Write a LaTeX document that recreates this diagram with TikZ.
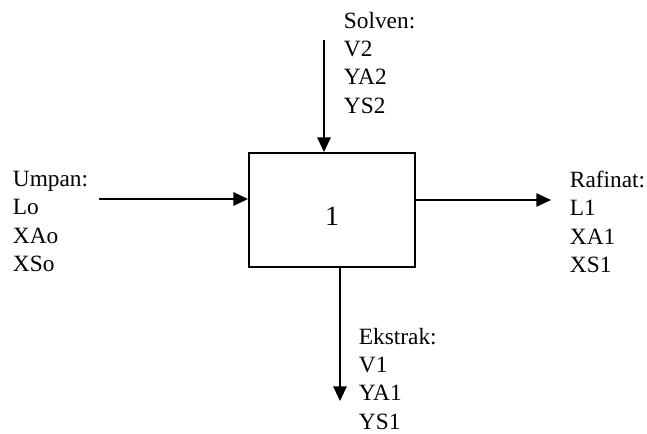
\documentclass[tikz,border=0pt]{standalone}
\usepackage{fontspec}
\setmainfont{Liberation Serif}
\usetikzlibrary{arrows.meta}

\tikzset{every picture/.style={line width=1.4pt}}
\tikzset{
  flow/.style={-{Triangle[length=11pt,width=10pt]}},
  streamtext/.style={anchor=north west, inner sep=0.75pt, align=left, font=\fontsize{17.5}{21.3}\selectfont}
}

\begin{document}
\begin{tikzpicture}[x=0.75pt,y=0.75pt,yscale=-1,xscale=1]
	\useasboundingbox (0,0) rectangle (647,434);

	% Stage box
	\node [draw, minimum width=124.5pt, minimum height=85.5pt, inner sep=0pt, text height=24pt, font=\fontsize{21}{25}\selectfont] (unit) at (332,210) {1};

	% Free ends of the streams
	\coordinate (feedin) at (99,199);
	\coordinate (solvin) at (324,40);
	\coordinate (rafout) at (551,200);
	\coordinate (ekout) at (340,401);

	% Streams
	\draw [flow] (feedin) -- (feedin -| unit.west);
	\draw [flow] (solvin) -- (solvin |- unit.north);
	\draw [flow] (unit.east |- rafout) -- (rafout);
	\draw [flow] (unit.south -| ekout) -- (ekout);

	% Text Node
	\node [streamtext] (feed) at (11,169) {Umpan:\\Lo\\XAo\\XSo};
	% Text Node
	\node [streamtext] (solvent) at (342,10) {Solven:\\V2\\YA2\\YS2};
	% Text Node
	\node [streamtext] (raffinate) at (568,169) {Rafinat:\\L1\\XA1\\XS1};
	% Text Node
	\node [streamtext] (extract) at (357,326) {Ekstrak:\\V1\\YA1\\YS1};

\end{tikzpicture}
\end{document}
